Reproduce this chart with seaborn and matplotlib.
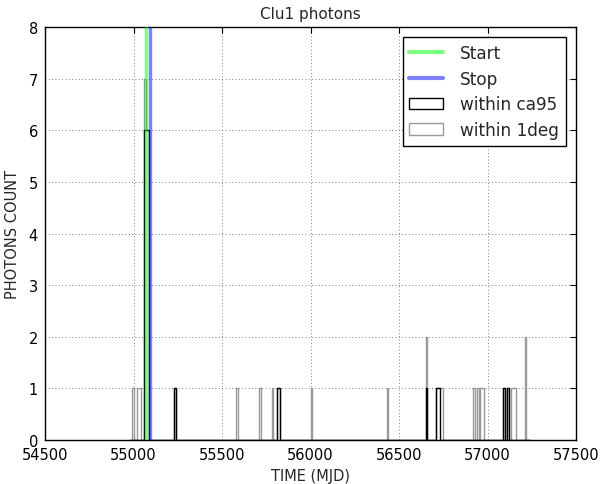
import numpy as np
import pandas as pd
import matplotlib
matplotlib.use("Agg")
import matplotlib.pyplot as plt
import seaborn as sns
from matplotlib.lines import Line2D
from matplotlib.patches import Patch

# ---- data (photon arrival times, MJD) ----
ca95_times = ([55065] * 6 + [55075] * 6 + [55085] * 6 +
              [55235, 55815, 55825, 56655, 56715, 56725, 57095, 57115])
deg1_times = ([54995, 55025, 55035] + [55065] * 7 + [55075] * 6 + [55085] * 6 +
              [55235, 55585, 55715, 55785, 55815, 55825, 56005, 56435,
               56655, 56655, 56715, 56725, 56735, 56745,
               56925, 56945, 56965, 56975, 57095, 57115,
               57135, 57145, 57155, 57215, 57215])
start_time = 55068
stop_time = 55093
title = "Clu1 photons"
xlabel = "TIME (MJD)"
ylabel = "PHOTONS COUNT"
legend_labels = ["Start", "Stop", "within ca95", "within 1deg"]

sns.set_style("white")
plt.rcParams["font.family"] = ["DejaVu Sans"]

fig = plt.figure(figsize=(6.0, 4.85), dpi=100)
ax = fig.add_axes([0.075, 0.0907, 0.885, 0.851])

df1 = pd.DataFrame({"t": deg1_times})
df2 = pd.DataFrame({"t": ca95_times})
sns.histplot(data=df1, x="t", binwidth=10, binrange=(54980, 57240),
             element="step", fill=False, color="#999999", linewidth=1.0, ax=ax)
sns.histplot(data=df2, x="t", binwidth=10, binrange=(54980, 57240),
             element="step", fill=False, color="black", linewidth=1.0, ax=ax)

ax.axvline(start_time, color=(0, 1, 0), alpha=0.5, lw=2.4, zorder=3)
ax.axvline(stop_time, color=(0, 0, 1), alpha=0.5, lw=2.4, zorder=3)

ax.set_xlim(54500, 57500)
ax.set_ylim(0, 8)
ax.set_xticks(np.arange(54500, 57501, 500))
ax.set_yticks(np.arange(0, 9, 1))
ax.grid(True, linestyle=(0, (1, 3)), color="#555555", linewidth=0.6)
ax.tick_params(direction="in", top=True, right=True, length=4, width=0.8,
               labelsize=10.5, colors="black", pad=5)
for s in ax.spines.values():
    s.set_color("black")
    s.set_linewidth(1.0)

ax.set_title(title, fontsize=11, pad=7)
ax.set_xlabel(xlabel, fontsize=10.5)
ax.set_ylabel(ylabel, fontsize=10.5, labelpad=6)

handles = [Line2D([], [], color=(0, 1, 0), alpha=0.5, lw=3),
           Line2D([], [], color=(0, 0, 1), alpha=0.5, lw=3),
           Patch(facecolor="none", edgecolor="black", linewidth=1.0),
           Patch(facecolor="none", edgecolor="#999999", linewidth=1.0)]
leg = ax.legend(handles, legend_labels, loc="upper right", fontsize=12.2,
                frameon=True, fancybox=False, framealpha=1, edgecolor="black",
                borderaxespad=0.6, handlelength=2.0, labelspacing=0.45,
                handletextpad=1.0, borderpad=0.4)
leg.get_frame().set_linewidth(1.0)

fig.savefig("out.png", dpi=100)
